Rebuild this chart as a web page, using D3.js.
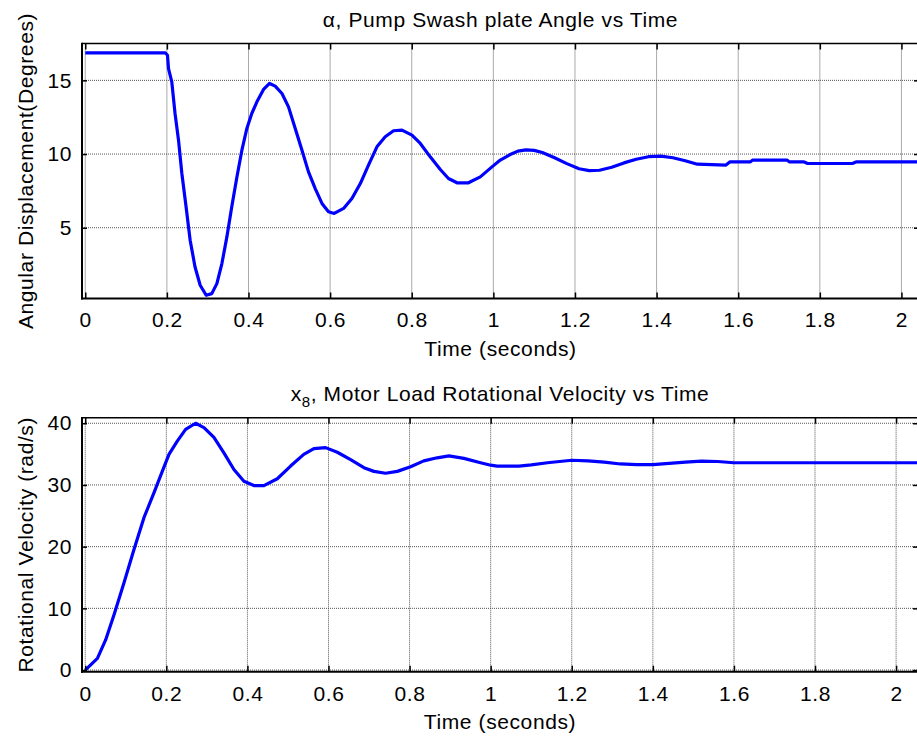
<!DOCTYPE html>
<html>
<head>
<meta charset="utf-8">
<script src="https://cdn.jsdelivr.net/npm/d3@7"></script>
<style>
	body { margin: 0; background: #fff; }
	text { font-family: "Liberation Sans", Arial, sans-serif; fill: #000; letter-spacing: 0.6px; }
</style>
</head>
<body>
<div id="chart"></div>
<script>
// ---- data ----
const xTicks = [0, 0.2, 0.4, 0.6, 0.8, 1, 1.2, 1.4, 1.6, 1.8, 2]
const alphaTicks = [5, 10, 15]
const velTicks = [0, 10, 20, 30, 40]

const alphaTime = [0, 0.196, 0.2015, 0.204, 0.212, 0.22, 0.2285, 0.2367, 0.247, 0.257, 0.269, 0.2816,
	0.2963, 0.31, 0.3225, 0.3348, 0.347, 0.359, 0.3716, 0.3838, 0.396, 0.408, 0.4206, 0.4368, 0.4515,
	0.4654, 0.482, 0.498, 0.5145, 0.531, 0.547, 0.5635, 0.58, 0.596, 0.61, 0.633, 0.6534, 0.674, 0.694,
	0.7147, 0.735, 0.7554, 0.776, 0.8005, 0.821, 0.8453, 0.87, 0.89, 0.911, 0.939, 0.968, 0.9966, 1.017,
	1.04, 1.06, 1.08, 1.1, 1.12, 1.15, 1.18, 1.21, 1.235, 1.26, 1.29, 1.32, 1.35, 1.38, 1.41, 1.44, 1.47,
	1.5, 1.57, 1.58, 1.63, 1.635, 1.72, 1.725, 1.76, 1.77, 1.88, 1.89, 2.06]
const alphaDeg = [16.87, 16.87, 16.7, 15.8, 14.9, 12.75, 10.94, 8.68, 6.42, 4.15, 2.34, 1.1,
	0.42, 0.53, 1.21, 2.57, 4.38, 6.42, 8.45, 10.26, 11.74, 12.75, 13.54, 14.38, 14.79,
	14.61, 14.11, 13.2, 11.74, 10.26, 8.79, 7.66, 6.65, 6.08, 5.97, 6.31, 6.99, 8.0, 9.25,
	10.49, 11.17, 11.58, 11.62, 11.28, 10.72, 9.81, 8.95, 8.34, 8.05, 8.05, 8.45, 9.13, 9.59,
	9.95, 10.2, 10.28, 10.25, 10.1, 9.75, 9.35, 9.0, 8.88, 8.9, 9.1, 9.4, 9.65, 9.82, 9.86, 9.75, 9.55,
	9.31, 9.25, 9.47, 9.47, 9.59, 9.59, 9.47, 9.47, 9.36, 9.36, 9.47, 9.47]

const velTime = [0, 0.03, 0.0503, 0.0708, 0.0954, 0.12, 0.1448, 0.1694, 0.19, 0.2065, 0.227, 0.2476,
	0.2722, 0.2928, 0.3174, 0.342, 0.3667, 0.3914, 0.416, 0.4407, 0.4737, 0.5065, 0.539, 0.564, 0.5928,
	0.6217, 0.6545, 0.6873, 0.712, 0.7408, 0.7697, 0.8025, 0.835, 0.868, 0.897, 0.934, 0.975, 1.0, 1.016,
	1.07, 1.1, 1.14, 1.17, 1.2, 1.24, 1.28, 1.32, 1.36, 1.4, 1.44, 1.48, 1.52, 1.56, 1.6, 2.07]
const velRad = [0, 1.9, 4.88, 8.94, 14.1, 19.5, 24.7, 28.7, 32.2, 34.96, 37.1, 39.0,
	40.0, 39.3, 37.7, 35.2, 32.5, 30.6, 29.9, 29.9, 31.0, 33.06, 34.96, 35.9, 36.05,
	35.3, 34.1, 32.8, 32.2, 31.9, 32.2, 32.96, 33.9, 34.4, 34.7, 34.3, 33.6, 33.2, 33.06,
	33.06, 33.25, 33.6, 33.8, 34.0, 33.9, 33.7, 33.4, 33.3, 33.3, 33.5, 33.7, 33.85, 33.8, 33.6, 33.6]

// ---- layout ----
const width = 917
const height = 736
const fontSize = 21

const svg = d3.select('#chart')
	.append('svg')
	.attr('width', width)
	.attr('height', height)

svg.append('rect')
	.attr('width', width)
	.attr('height', height)
	.attr('fill', 'white')

function drawPanel(cfg) {
	const x = d3.scaleLinear().domain(cfg.xDomain).range([cfg.left, cfg.right])
	const y = d3.scaleLinear().domain(cfg.yDomain).range([cfg.bottom, cfg.top])
	const g = svg.append('g')

	// grid
	g.selectAll('.vgrid')
		.data(xTicks)
		.enter()
		.append('line')
		.attr('x1', d => x(d))
		.attr('x2', d => x(d))
		.attr('y1', cfg.top)
		.attr('y2', cfg.bottom)
		.attr('stroke', '#555')
		.attr('stroke-width', 1)
		.attr('stroke-dasharray', '1,1')
	g.selectAll('.hgrid')
		.data(cfg.yTicks)
		.enter()
		.append('line')
		.attr('x1', cfg.left)
		.attr('x2', cfg.right)
		.attr('y1', d => y(d))
		.attr('y2', d => y(d))
		.attr('stroke', '#555')
		.attr('stroke-width', 1)
		.attr('stroke-dasharray', '1,1')

	// curve
	g.append('clipPath')
		.attr('id', 'clip' + cfg.id)
		.append('rect')
		.attr('x', cfg.left)
		.attr('y', cfg.top - 2)
		.attr('width', cfg.right - cfg.left)
		.attr('height', cfg.bottom - cfg.top + 4)

	const line = d3.line()
		.x((d, i) => x(cfg.t[i]))
		.y(d => y(d))
	g.append('path')
		.datum(cfg.v)
		.attr('clip-path', 'url(#clip' + cfg.id + ')')
		.attr('d', line)
		.attr('fill', 'none')
		.attr('stroke', '#0000ff')
		.attr('stroke-width', 3.2)
		.attr('stroke-linejoin', 'round')

	// axes (MATLAB style, inward ticks)
	g.append('g')
		.attr('transform', 'translate(0,' + cfg.bottom + ')')
		.call(d3.axisBottom(x).tickValues(xTicks).tickFormat(d3.format('~g'))
			.tickSizeInner(-6).tickSizeOuter(0).tickPadding(14))
	g.append('g')
		.attr('transform', 'translate(0,' + cfg.top + ')')
		.call(d3.axisTop(x).tickValues(xTicks).tickFormat('')
			.tickSizeInner(-6).tickSizeOuter(0))
	g.append('g')
		.attr('transform', 'translate(' + cfg.left + ',0)')
		.call(d3.axisLeft(y).tickValues(cfg.yTicks)
			.tickSizeInner(-5).tickSizeOuter(0).tickPadding(10))
	g.append('g')
		.attr('transform', 'translate(' + cfg.right + ',0)')
		.call(d3.axisRight(y).tickValues(cfg.yTicks).tickFormat('')
			.tickSizeInner(-5).tickSizeOuter(0))

	g.selectAll('.domain').remove()
	g.selectAll('.tick line').attr('stroke', '#000').attr('stroke-width', 1.5)
	g.selectAll('.tick text')
		.style('font-family', '"Liberation Sans", Arial, sans-serif')
		.style('font-size', fontSize + 'px')
		.attr('fill', '#000')

	// box
	g.append('line')
		.attr('x1', cfg.left).attr('x2', cfg.right)
		.attr('y1', cfg.top).attr('y2', cfg.top)
		.attr('stroke', '#000').attr('stroke-width', 1.5)
	g.append('line')
		.attr('x1', cfg.right).attr('x2', cfg.right)
		.attr('y1', cfg.top).attr('y2', cfg.bottom)
		.attr('stroke', '#000').attr('stroke-width', 1.5)
	g.append('line')
		.attr('x1', cfg.left - 1).attr('x2', cfg.right)
		.attr('y1', cfg.bottom).attr('y2', cfg.bottom)
		.attr('stroke', '#000').attr('stroke-width', 2)
	g.append('line')
		.attr('x1', cfg.left).attr('x2', cfg.left)
		.attr('y1', cfg.top - 0.75).attr('y2', cfg.bottom + 1)
		.attr('stroke', '#000').attr('stroke-width', 2)

	// labels
	const cx = (cfg.left + cfg.right) / 2
	g.append('text')
		.attr('x', cx)
		.attr('y', cfg.bottom + 57)
		.attr('text-anchor', 'middle')
		.attr('font-size', fontSize)
		.text('Time (seconds)')
	g.append('text')
		.attr('transform', 'translate(33,' + ((cfg.top + cfg.bottom) / 2) + ') rotate(-90)')
		.attr('text-anchor', 'middle')
		.attr('font-size', fontSize)
		.text(cfg.yLabel)

	const title = g.append('text')
		.attr('x', cx)
		.attr('y', cfg.top - 16.5)
		.attr('text-anchor', 'middle')
		.attr('font-size', fontSize)
	cfg.title(title)
}

drawPanel({
	id: 1,
	left: 82, right: 919, top: 43.5, bottom: 298.5,
	xDomain: [-0.008, 2.043],
	yDomain: [0.2, 17.5],
	yTicks: alphaTicks,
	t: alphaTime, v: alphaDeg,
	yLabel: 'Angular Displacement(Degrees)',
	title: sel => sel.text('\u03b1, Pump Swash plate Angle vs Time')
})

drawPanel({
	id: 2,
	left: 82, right: 918, top: 417.7, bottom: 671.7,
	xDomain: [-0.008, 2.054],
	yDomain: [-0.27, 40.9],
	yTicks: velTicks,
	t: velTime, v: velRad,
	yLabel: 'Rotational Velocity (rad/s)',
	title: sel => {
		sel.append('tspan').text('x')
		sel.append('tspan').attr('font-size', 15).attr('dy', 6).text('8')
		sel.append('tspan').attr('dy', -6).text(', Motor Load Rotational Velocity vs Time')
	}
})
</script>
</body>
</html>
